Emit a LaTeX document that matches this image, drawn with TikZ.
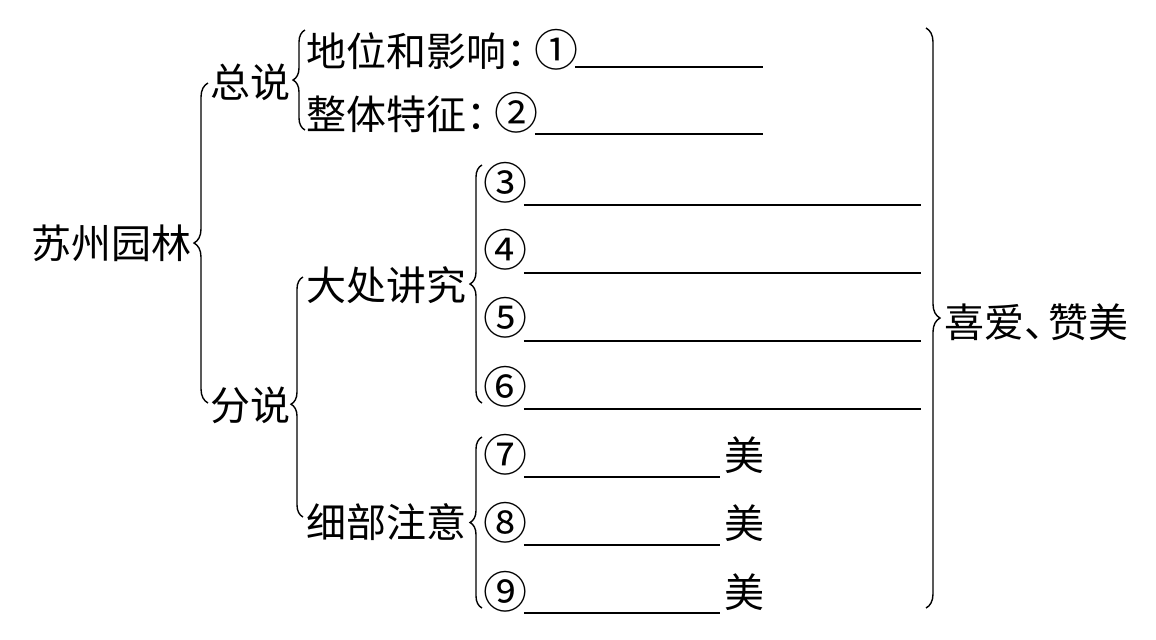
\documentclass[tikz,border=0pt]{standalone}
\usepackage{fontspec}
\newfontfamily\cjk{Noto Sans CJK SC}
\usetikzlibrary{decorations.pathreplacing}
\newcommand{\Quan}[1]{{\fontsize{22pt}{24pt}\selectfont #1}}
\tikzset{
  lbl/.style={anchor=west,inner sep=0pt,font=\cjk\fontsize{20pt}{22pt}\selectfont},
  cnum/.style={lbl,font=\cjk\fontsize{22pt}{24pt}\selectfont},
  brc/.style={decorate,decoration={brace,amplitude=#1},line width=0.7pt},
  brc/.default=6pt,
  blank/.style={line width=1pt}
}
\begin{document}
\begin{tikzpicture}[x=0.5pt,y=-0.5pt]
  \useasboundingbox (0,0) rectangle (1156,639);

  % root
  \node[lbl] (sz) at (31,243) {苏州园林};
  \coordinate (szA) at (208,403);
  \coordinate (szB) at (208,83);
  \draw[brc=7pt] (szA) -- (szB);

  \node[lbl] (zs) at (210,82) {总说};
  \node[lbl] (fs) at (210,405) {分说};

  % zongshuo
  \coordinate (zsA) at (305,130);
  \coordinate (zsB) at (305,30);
  \draw[brc] (zsA) -- (zsB);
  \node[lbl] (dw) at (306,50) {地位和影响：\kern-0.3em\Quan{①}};
  \node[lbl] (zt) at (306,113) {整体特征：\kern-0.3em\Quan{②}};
  \coordinate (e1) at (763,67);
  \coordinate (e2) at (763,134);
  \draw[blank] ([xshift=-2pt]dw.east |- e1) -- (e1);
  \draw[blank] ([xshift=-2pt]zt.east |- e2) -- (e2);

  % fenshuo
  \coordinate (fsA) at (303,517);
  \coordinate (fsB) at (303,277);
  \draw[decorate,decoration={brace,amplitude=6pt,aspect=0.47},line width=0.7pt] (fsA) -- (fsB);
  \node[lbl] (dc) at (306,285) {大处讲究};
  \node[lbl] (xb) at (306,522) {细部注意};

  % dachu jiangjiu
  \coordinate (dcA) at (482,403);
  \coordinate (dcB) at (482,165);
  \draw[brc] (dcA) -- (dcB);
  \node[cnum] (n3) at (483,183) {③};
  \node[cnum] (n4) at (483,250) {④};
  \node[cnum] (n5) at (483,318) {⑤};
  \node[cnum] (n6) at (483,387) {⑥};
  \coordinate (e3) at (921,205);
  \coordinate (e4) at (921,273);
  \coordinate (e5) at (921,341);
  \coordinate (e6) at (921,409);
  \draw[blank] ([xshift=-2pt]n3.east |- e3) -- (e3);
  \draw[blank] ([xshift=-2pt]n4.east |- e4) -- (e4);
  \draw[blank] ([xshift=-2pt]n5.east |- e5) -- (e5);
  \draw[blank] ([xshift=-2pt]n6.east |- e6) -- (e6);

  % xibu zhuyi
  \coordinate (xbA) at (482,608);
  \coordinate (xbB) at (482,437);
  \draw[brc] (xbA) -- (xbB);
  \node[cnum] (n7) at (483,455) {⑦};
  \node[cnum] (n8) at (483,523) {⑧};
  \node[cnum] (n9) at (483,592) {⑨};
  \coordinate (e7) at (720,477);
  \coordinate (e8) at (720,545);
  \coordinate (e9) at (720,613);
  \draw[blank] ([xshift=-2pt]n7.east |- e7) -- (e7);
  \draw[blank] ([xshift=-2pt]n8.east |- e8) -- (e8);
  \draw[blank] ([xshift=-2pt]n9.east |- e9) -- (e9);
  \node[lbl] (m7) at (724,455) {美};
  \node[lbl] (m8) at (724,523) {美};
  \node[lbl] (m9) at (724,592) {美};

  % right
  \coordinate (rtA) at (926,28);
  \coordinate (rtB) at (926,608);
  \draw[brc=7pt] (rtA) -- (rtB);
  \node[lbl] (xa) at (944,322) {喜爱、\kern-0.4em赞美};
\end{tikzpicture}
\end{document}
